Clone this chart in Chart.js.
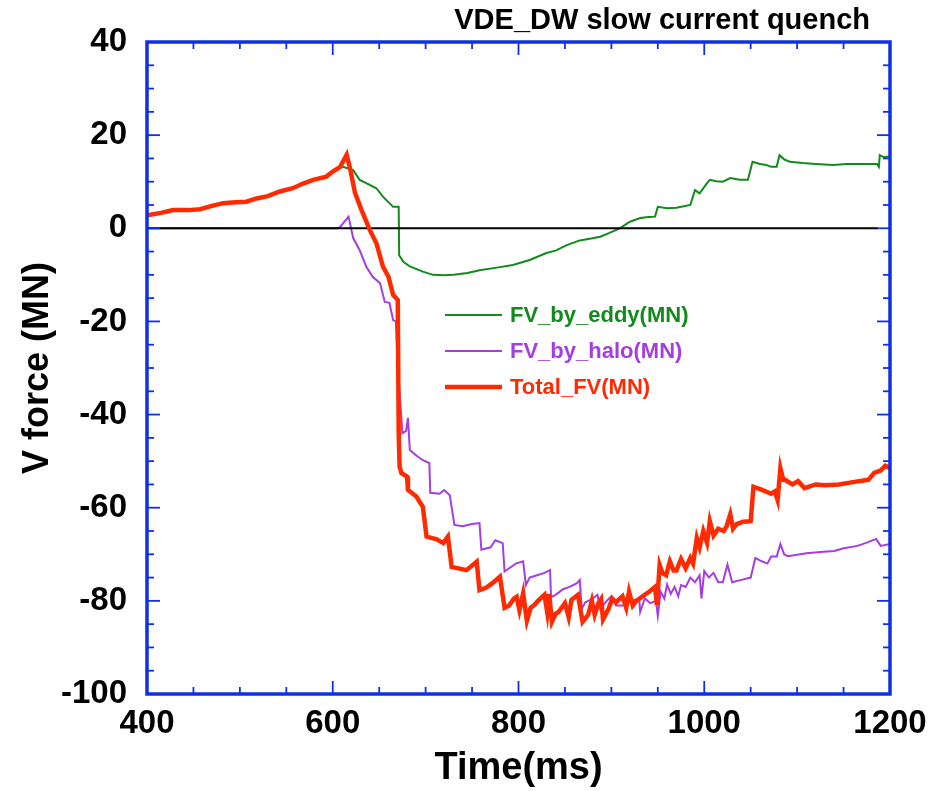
<!DOCTYPE html>
<html>
<head>
<meta charset="utf-8">
<script src="https://cdn.jsdelivr.net/npm/chart.js@4.4.1/dist/chart.umd.min.js"></script>
<style>
  html,body{margin:0;padding:0;background:#fff;}
  #wrap{width:944px;height:791px;position:relative;}
</style>
</head>
<body>
<div id="wrap"><canvas id="c" width="944" height="791"></canvas></div>
<script>
// ---- data ----
const chartTitle = "VDE_DW slow current quench";
const xTitle = "Time(ms)";
const yTitle = "V force (MN)";
const xTicks = [400, 600, 800, 1000, 1200];
const yTicks = [-100, -80, -60, -40, -20, 0, 20, 40];

const totalT = [400,415,428,445,457,470,482,495,507,518,530,543,557,568,579,593,600,608,615,619,624,631,640,647,654,660,665,670,671,672,674,680,681,690,697,701,712,719,724,728,744,755,758,765,772,780,785,790,795,798,801,805,809,813,817,822,828,831,833,836,840,843,850,854,857,864,869,875,879,882,886,889,891,897,901,905,912,916,919,923,927,935,941,947,949,952,955,959,963,967,970,975,980,985,988,992,995,999,1003,1006,1010,1015,1021,1024,1028,1031,1035,1042,1050,1053,1060,1066,1072,1076,1079,1082,1085,1087,1095,1101,1108,1120,1130,1145,1160,1170,1177,1183,1190,1195,1200];
const totalV = [2.8,3.3,3.9,3.9,4.1,4.8,5.4,5.6,5.7,6.4,6.9,7.9,8.6,9.6,10.4,11.1,12.2,13.2,15.8,12.5,7.6,3.9,-0.4,-3.2,-8.2,-10.4,-14.3,-15.4,-44,-51.2,-52.6,-53.3,-56.2,-57.6,-59.8,-66.2,-66.8,-67.6,-66.2,-72.7,-73.4,-71.6,-77.7,-77.2,-76.2,-74.8,-81.5,-81.0,-79.5,-79.1,-82.0,-78.4,-84.3,-81.5,-80.9,-79.8,-78.7,-82.5,-78.5,-84.5,-82.8,-82.4,-80.5,-83.5,-79.8,-78.7,-84.5,-83.0,-80.0,-83.0,-80.5,-79.6,-84.0,-81.7,-79.5,-80.3,-79.0,-81.5,-78.0,-81.0,-80.0,-78.8,-78.0,-77.0,-80.9,-72.3,-74.0,-74.5,-71.5,-73.5,-73.5,-71.0,-73.0,-70.8,-72.0,-66.5,-68.5,-65.0,-67.5,-62.9,-66.0,-64.5,-65.0,-64.0,-61.4,-64.5,-63.5,-63.0,-62.9,-55.5,-56.0,-56.5,-57.0,-56.5,-58.4,-51.5,-54.0,-54.0,-55.0,-54.3,-55.8,-55.0,-55.2,-55.0,-54.5,-54.2,-54.0,-52.5,-52.0,-51.0,-51.5];

const haloT = [400,605,608,617,622,629,636,643,651,656,661,665,668,670,673,675,679,681,683,690,697,704,705,715,720,726,731,740,750,758,760,770,775,783,785,790,797,805,808,812,820,828,834,835,840,848,855,863,866,868,872,880,885,888,895,900,905,912,920,930,931,936,942,948,950,953,957,960,964,968,972,975,980,985,990,995,997,1000,1005,1010,1015,1020,1025,1030,1040,1050,1055,1062,1068,1072,1078,1082,1086,1090,1110,1125,1140,1150,1165,1175,1185,1190,1200];
const haloV = [0,0,0.3,2.5,-2.1,-4.7,-8.2,-10.4,-11.8,-15.8,-16.0,-19.7,-20.0,-30,-38.3,-44,-43.5,-40.7,-47.6,-48.8,-49.8,-50.4,-56.8,-57.0,-56.2,-57.3,-63.7,-64.0,-63.5,-63.3,-69.0,-68.5,-67.0,-67.6,-73.7,-73.0,-72.0,-71.5,-76.6,-75.0,-74.5,-74.0,-73.4,-79.2,-78.7,-77.5,-77.0,-76.2,-75.5,-81.7,-80.3,-79.5,-78.7,-81.7,-80.0,-79.0,-81.0,-81.0,-80.0,-79.6,-82.4,-79.5,-80.5,-80.0,-83.2,-78.0,-79.5,-76.5,-78.5,-77.0,-79.0,-76.6,-77.0,-75.0,-76.0,-74.5,-79.5,-73.6,-75.0,-74.0,-76.0,-76.0,-72.2,-76.0,-75.5,-75.0,-70.8,-71.5,-72.0,-70.5,-70.5,-67.8,-70.0,-70.4,-69.8,-69.5,-69.3,-68.7,-68.2,-67.5,-66.7,-68.2,-67.8];

const eddyT = [400,415,428,445,457,470,482,495,507,518,530,543,557,568,579,593,600,608,611,622,629,636,647,654,665,671,671.5,676,683,697,708,720,730,745,758,775,794,812,830,840,852,866,878,888,898,909,920,931,940,947,950,960,970,985,990,995,1003,1006,1013,1020,1028,1038,1047,1052,1060,1067,1072,1078,1081,1086,1092,1106,1120,1139,1153,1170,1186,1188,1189,1193,1200];
const eddyV = [2.8,3.3,3.9,3.9,4.1,4.8,5.4,5.6,5.7,6.4,6.9,7.9,8.6,9.6,10.4,11.1,12.2,13.2,13.2,12.5,10.4,9.7,8.6,6.8,4.6,4.6,-5.8,-7.2,-8.2,-9.3,-10.0,-10.1,-10.0,-9.6,-9.0,-8.5,-7.9,-6.8,-5.3,-4.8,-3.6,-2.6,-2.2,-1.8,-1.0,0.0,1.4,2.2,2.4,2.5,4.6,4.3,4.4,5.0,8.2,7.5,9.7,10.4,10.1,10.0,10.8,10.4,10.4,14.3,13.8,13.6,13.2,13.2,15.7,14.8,14.3,14.0,13.8,13.6,13.8,13.8,13.8,13.2,15.7,15.3,15.4];

const zeroT = [400, 1187];
const zeroV = [0, 0];

const seriesNames = ["FV_by_eddy(MN)", "FV_by_halo(MN)", "Total_FV(MN)"];

// ---- styling ----
const BLUE = '#1030e6';
const GREEN = '#128a1c';
const PURPLE = '#a43ee0';
const RED = '#ff2a00';
const FONT = '"Liberation Sans", Arial, Helvetica, sans-serif';

const pts = (t, v) => t.map((x, i) => ({x: x, y: v[i]}));

const framePlugin = {
  id: 'frame',
  afterDatasetsDraw(chart) {
    const ctx = chart.ctx;
    const {left, right, top, bottom} = chart.chartArea;
    const xs = chart.scales.x, ys = chart.scales.y;
    ctx.save();
    ctx.strokeStyle = BLUE;
    ctx.lineWidth = 1.8;
    const seg = (a, b, c, d) => { ctx.beginPath(); ctx.moveTo(a, b); ctx.lineTo(c, d); ctx.stroke(); };
    for (let v = ys.min; v <= ys.max; v += 5) {
      const py = ys.getPixelForValue(v);
      const len = (v % 20 === 0) ? 13 : 7;
      seg(left, py, left + len, py);
      seg(right, py, right - len, py);
    }
    for (let t = xs.min; t <= xs.max; t += 50) {
      const px = xs.getPixelForValue(t);
      const len = (t % 200 === 0) ? 13 : 7;
      seg(px, bottom, px, bottom - len);
      seg(px, top, px, top + len);
    }
    ctx.lineWidth = 3.5;
    ctx.strokeRect(left, top, right - left, bottom - top);

    // legend (inside plot)
    const ds = chart.data.datasets;
    const rows = [0, 1, 2];
    const ly = [315, 351, 387];
    ctx.font = 'bold 22px ' + FONT;
    ctx.textBaseline = 'middle';
    ctx.textAlign = 'left';
    rows.forEach((r, i) => {
      const d = ds[r];
      ctx.strokeStyle = d.borderColor;
      ctx.lineWidth = d.borderWidth;
      seg(445, ly[i], 502, ly[i]);
      ctx.fillStyle = d.borderColor;
      ctx.fillText(d.label, 510, ly[i] + 1);
    });

    // title
    ctx.fillStyle = '#000';
    ctx.font = 'bold 29px ' + FONT;
    ctx.textAlign = 'right';
    ctx.textBaseline = 'alphabetic';
    ctx.fillText(chartTitle, 870, 29);
    ctx.restore();
  }
};

new Chart(document.getElementById('c'), {
  type: 'line',
  data: {
    datasets: [
      {label: seriesNames[0], data: pts(eddyT, eddyV), borderColor: GREEN, borderWidth: 2, pointRadius: 0, tension: 0, order: 2},
      {label: seriesNames[1], data: pts(haloT, haloV), borderColor: PURPLE, borderWidth: 2, pointRadius: 0, tension: 0, order: 3},
      {label: seriesNames[2], data: pts(totalT, totalV), borderColor: RED, borderWidth: 4.5, pointRadius: 0, tension: 0, order: 0},
      {label: 'zero', data: pts(zeroT, zeroV), borderColor: '#000', borderWidth: 2, pointRadius: 0, tension: 0, order: 1}
    ]
  },
  options: {
    responsive: false,
    animation: false,
    layout: {padding: {top: 42, right: 54, left: 0, bottom: 0}},
    plugins: {legend: {display: false}, tooltip: {enabled: false}, title: {display: false}},
    scales: {
      x: {
        type: 'linear', min: 400, max: 1200,
        grid: {display: false, drawTicks: false},
        border: {display: false},
        afterBuildTicks: (s) => { s.ticks = xTicks.map(v => ({value: v})); },
        afterFit: (s) => { s.height = 97; },
        ticks: {autoSkip: false, maxRotation: 0, padding: 10, color: '#000', callback: (v) => String(v), font: {family: FONT, weight: 'bold', size: 33}},
        title: {display: true, text: xTitle, color: '#000', padding: {top: 0, bottom: 0}, font: {family: FONT, weight: 'bold', size: 38}}
      },
      y: {
        type: 'linear', min: -100, max: 40,
        grid: {display: false, drawTicks: false},
        border: {display: false},
        afterBuildTicks: (s) => { s.ticks = yTicks.map(v => ({value: v})); },
        afterFit: (s) => { s.width = 147; },
        ticks: {autoSkip: false, padding: 20, color: '#000', callback: (v) => String(v), font: {family: FONT, weight: 'bold', size: 33}},
        title: {display: true, text: yTitle, color: '#000', padding: {top: 16, bottom: 0}, font: {family: FONT, weight: 'bold', size: 36}}
      }
    }
  },
  plugins: [framePlugin]
});
</script>
</body>
</html>
